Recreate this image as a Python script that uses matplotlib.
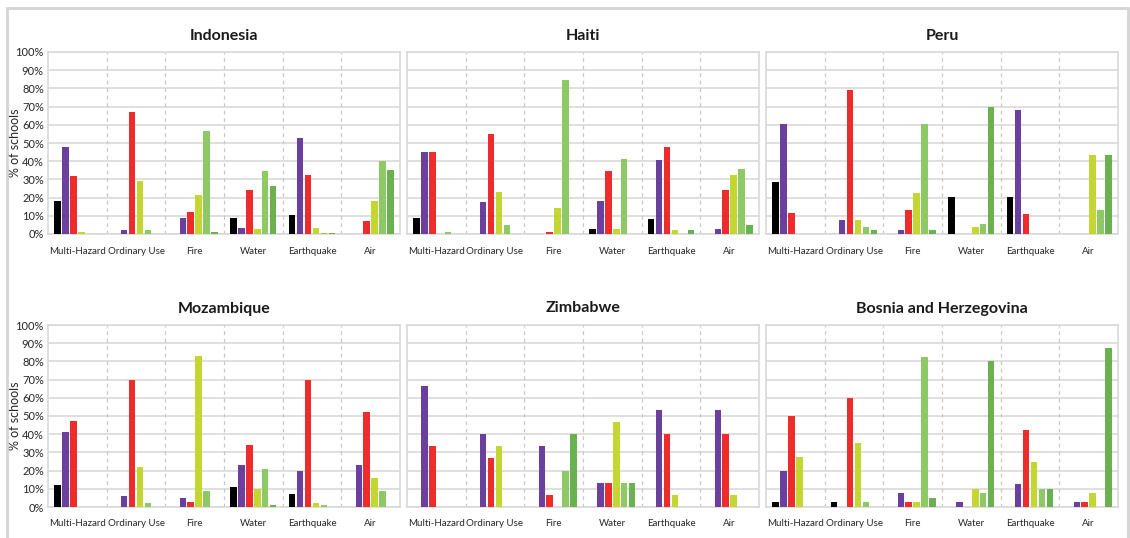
import numpy as np
import matplotlib.pyplot as plt
from matplotlib.patches import Rectangle

plt.rcParams['font.family'] = ['Lato', 'DejaVu Sans']

hazards = ["Multi-Hazard", "Ordinary Use", "Fire", "Water", "Earthquake", "Air"]
bar_colors = ["#000000", "#6a3f9d", "#ee2c2c", "#c3d631", "#8dc965", "#6ab152"]

# rows = hazards, columns = the six response groups (one colour each)
indonesia = [
    [18, 48, 32, 1, 0, 0],
    [0, 2, 67, 29, 2, 0],
    [0, 9, 12, 21.5, 56.5, 1.3],
    [9, 3.5, 24, 3, 34.5, 26.5],
    [10.5, 52.5, 32.5, 3.5, 0.5, 0.5],
    [0, 0, 7, 18, 40, 35],
]
haiti = [
    [9, 45, 45, 0, 1, 0],
    [0, 17.5, 55, 23, 5, 0],
    [0, 0, 1, 14.5, 84.5, 0],
    [3, 18, 34.5, 3, 41, 0],
    [8, 40.5, 48, 2, 0, 2],
    [0, 3, 24, 32.5, 35.5, 5],
]
peru = [
    [28.5, 60.5, 11.5, 0, 0, 0],
    [0, 7.5, 79, 7.5, 4, 2],
    [0, 2, 13, 22.5, 60.5, 2],
    [20.5, 0, 0, 4, 5.5, 70],
    [20.5, 68, 11, 0, 0, 0],
    [0, 0, 0, 43.5, 13, 43.5],
]
mozambique = [
    [12, 41, 47, 0, 0, 0],
    [0, 6, 70, 22, 2, 0],
    [0, 5, 3, 83, 9, 0],
    [11, 23, 34, 10, 21, 1],
    [7, 20, 70, 2, 1, 0],
    [0, 23, 52, 16, 9, 0],
]
zimbabwe = [
    [0, 66.7, 33.3, 0, 0, 0],
    [0, 40, 26.7, 33.3, 0, 0],
    [0, 33.3, 6.7, 0, 20, 40],
    [0, 13.3, 13.3, 46.7, 13.3, 13.3],
    [0, 53.3, 40, 6.7, 0, 0],
    [0, 53.3, 40, 6.7, 0, 0],
]
bosnia = [
    [2.5, 20, 50, 27.5, 0, 0],
    [2.5, 0, 60, 35, 2.5, 0],
    [0, 7.5, 2.5, 2.5, 82.5, 5],
    [0, 2.5, 0, 10, 7.5, 80],
    [0, 12.5, 42.5, 25, 10, 10],
    [0, 2.5, 2.5, 7.5, 0, 87.5],
]

countries = [
    ("Indonesia", indonesia),
    ("Haiti", haiti),
    ("Peru", peru),
    ("Mozambique", mozambique),
    ("Zimbabwe", zimbabwe),
    ("Bosnia and Herzegovina", bosnia),
]

W, H = 1130, 538
fig = plt.figure(figsize=(W / 100, H / 100), dpi=100)

# light frame round the whole figure
fig.patches.append(Rectangle((7 / W, -0.1), 1121 / W, 1 - 8 / H + 0.1,
                             transform=fig.transFigure, fill=False,
                             edgecolor="#d4d4d4", lw=2))

lefts = [48, 407, 766]
bottoms = [234, 507]
x = np.arange(len(hazards))
step, width = 0.135, 0.11

for k, (name, values) in enumerate(countries):
    row, col = divmod(k, 3)
    ax = fig.add_axes([lefts[col] / W, 1 - bottoms[row] / H, 352 / W, 182 / H])
    vals = np.array(values)
    for j in range(vals.shape[1]):
        ax.bar(x + (j - 2.5) * step, vals[:, j], width=width,
               color=bar_colors[j], zorder=3)

    for s in np.arange(0.5, len(hazards) - 1):
        ax.axvline(s, color="#c8c8c8", lw=0.9, ls=(0, (3, 3)), zorder=1)

    ax.set_xlim(-0.5, len(hazards) - 0.5)
    ax.set_ylim(0, 100)
    ax.set_yticks(range(0, 101, 10))
    ax.yaxis.grid(True, color="#d9d9d9", lw=1.2, zorder=0)
    ax.set_axisbelow(True)
    ax.set_xticks(x)
    ax.set_xticklabels(hazards)
    ax.tick_params(length=0, colors="#262626")
    ax.tick_params(axis="x", pad=9, labelsize=7.0)
    ax.tick_params(axis="y", pad=3, labelsize=8)
    if col == 0:
        ax.set_yticklabels([f"{v}%" for v in range(0, 101, 10)])
        ax.set_ylabel("% of schools", fontsize=9, color="#262626")
        ax.yaxis.set_label_coords(-0.078, 0.5)
    else:
        ax.set_yticklabels([])
    for sp in ax.spines.values():
        sp.set_color("#d9d9d9")
        sp.set_linewidth(1.2)
    ax.set_title(name, fontsize=11.5, fontweight="bold", color="#1a1a1a", pad=9)

fig.savefig("out.png", dpi=100)
